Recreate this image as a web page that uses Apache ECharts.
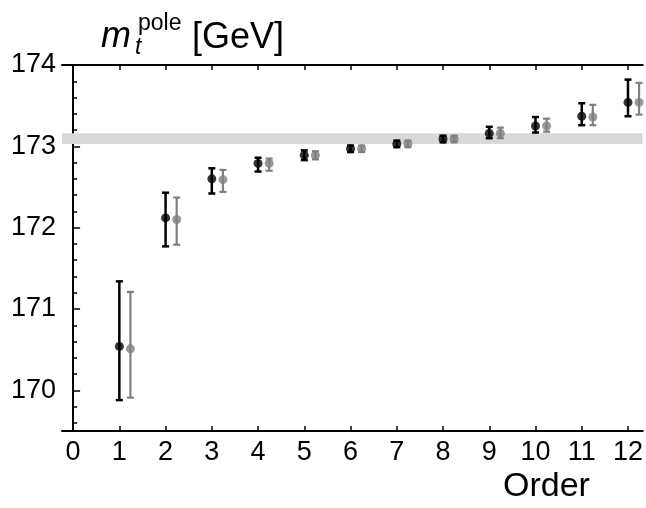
<!DOCTYPE html>
<html><head><meta charset="utf-8">
<script src="https://cdn.jsdelivr.net/npm/echarts@6/dist/echarts.min.js"></script>
<style>html,body{margin:0;padding:0;background:#fff}#c{width:646px;height:508px}</style>
</head><body><div id="c"></div>
<script>
const orders = [1,2,3,4,5,6,7,8,9,10,11,12];
const blackVal = [170.54,172.12,172.60,172.79,172.89,172.97,173.03,173.09,173.16,173.25,173.37,173.54];
const blackHi  = [171.34,172.43,172.73,172.86,172.95,173.01,173.07,173.13,173.24,173.36,173.53,173.82];
const blackLo  = [169.88,171.77,172.42,172.69,172.83,172.93,172.99,173.05,173.10,173.17,173.26,173.37];
const greyVal  = [170.51,172.10,172.59,172.79,172.89,172.97,173.03,173.09,173.16,173.25,173.36,173.54];
const greyHi   = [171.21,172.37,172.71,172.85,172.94,173.01,173.07,173.13,173.23,173.34,173.51,173.78];
const greyLo   = [169.91,171.79,172.44,172.70,172.84,172.93,172.99,173.05,173.10,173.18,173.26,173.39];
const band = [173.03, 173.16];
const xTicks = [0,1,2,3,4,5,6,7,8,9,10,11,12];
const yTicks = [170,171,172,173,174];
const yMinor = [169.6,169.8,170.2,170.4,170.6,170.8,171.2,171.4,171.6,171.8,172.2,172.4,172.6,172.8,173.2,173.4,173.6,173.8];
const greyShift = 0.24;

const FONT = '"Liberation Sans", Arial, sans-serif';
const BLACK = '#000000', GREY = '#808080';

function errSeries(xs, lo, hi, color, width) {
  return {
    type: 'custom', xAxisIndex: 0, yAxisIndex: 0, silent: true, z: 3,
    data: xs.map((x, i) => [x, lo[i], hi[i]]),
    encode: {x: 0, y: [1, 2]},
    renderItem: function (params, api) {
      const top = api.coord([api.value(0), api.value(2)]);
      const bot = api.coord([api.value(0), api.value(1)]);
      const cw = 3.5;
      const st = {stroke: color, lineWidth: width};
      return {type: 'group', children: [
        {type: 'line', shape: {x1: top[0], y1: top[1], x2: bot[0], y2: bot[1]}, style: st},
        {type: 'line', shape: {x1: top[0]-cw, y1: top[1], x2: top[0]+cw, y2: top[1]}, style: st},
        {type: 'line', shape: {x1: bot[0]-cw, y1: bot[1], x2: bot[0]+cw, y2: bot[1]}, style: st}
      ]};
    }
  };
}

const chart = echarts.init(document.getElementById('c'), null, {renderer: 'canvas'});
const axisLine = {show: true, lineStyle: {color: BLACK, width: 2}};
chart.setOption({
  animation: false,
  backgroundColor: '#ffffff',
  grid: {left: 62, right: 0, top: 65, bottom: 77, containLabel: false},
  xAxis: [
    {type: 'value', position: 'bottom', min: -0.24, max: 12.32,
     axisLine: axisLine, splitLine: {show: false},
     axisTick: {show: true, inside: true, length: 5, customValues: xTicks, lineStyle: {color: BLACK, width: 1.5}},
     axisLabel: {customValues: xTicks, color: BLACK, fontSize: 27, fontFamily: FONT, margin: 8}},
    {type: 'value', position: 'top', min: -0.24, max: 12.32,
     axisLine: axisLine, splitLine: {show: false},
     axisTick: {show: true, inside: true, length: 5, customValues: xTicks, lineStyle: {color: BLACK, width: 1.5}},
     axisLabel: {show: false}}
  ],
  yAxis: [
    {type: 'value', position: 'left', min: 169.5, max: 174,
     axisLine: axisLine, splitLine: {show: false},
     axisTick: {show: true, inside: true, length: 7, customValues: yTicks, lineStyle: {color: BLACK, width: 1.5}},
     axisLabel: {customValues: yTicks, color: BLACK, fontSize: 27, fontFamily: FONT, margin: 6}},
    {type: 'value', position: 'left', min: 169.5, max: 174,
     axisLine: {show: false}, splitLine: {show: false},
     axisTick: {show: true, inside: true, length: 4, customValues: yMinor, lineStyle: {color: BLACK, width: 1.5}},
     axisLabel: {show: false}}
  ],
  series: [
    {type: 'scatter', xAxisIndex: 0, yAxisIndex: 0, silent: true, z: 1, data: [],
     markArea: {silent: true, itemStyle: {color: '#d9d9d9'},
       data: [[{yAxis: band[0]}, {yAxis: band[1]}]]}},
    errSeries(orders, blackLo, blackHi, BLACK, 2.5),
    errSeries(orders.map(o => o + greyShift), greyLo, greyHi, GREY, 2.2),
    {type: 'scatter', xAxisIndex: 0, yAxisIndex: 0, silent: true, z: 4, symbol: 'circle', symbolSize: 9,
     itemStyle: {color: BLACK}, data: orders.map((o, i) => [o, blackVal[i]])},
    {type: 'scatter', xAxisIndex: 0, yAxisIndex: 0, silent: true, z: 4, symbol: 'circle', symbolSize: 9,
     itemStyle: {color: GREY}, data: orders.map((o, i) => [o + greyShift, greyVal[i]])}
  ],
  graphic: [
    {type: 'text', left: 101, top: 19, style: {text: 'm', font: 'italic 36px ' + FONT, fill: BLACK}},
    {type: 'text', left: 135, top: 36, style: {text: 't', font: 'italic 23px ' + FONT, fill: BLACK}},
    {type: 'text', left: 138, top: 12, style: {text: 'pole', font: '23px ' + FONT, fill: BLACK}},
    {type: 'text', left: 192, top: 20, style: {text: '[GeV]', font: '36px ' + FONT, fill: BLACK}},
    {type: 'text', left: 503, top: 470, style: {text: 'Order', font: '34px ' + FONT, fill: BLACK}}
  ]
});
</script></body></html>
